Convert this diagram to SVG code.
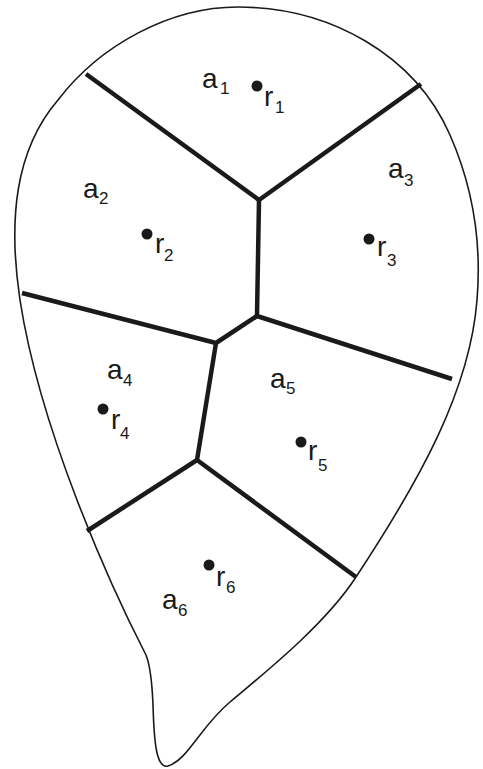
<svg xmlns="http://www.w3.org/2000/svg" width="483" height="769" viewBox="0 0 483 769">
<style>
.outline{fill:none;stroke:#1a1a1a;stroke-width:1.6}
.edge{fill:none;stroke:#1a1a1a;stroke-width:4.5;stroke-linejoin:round;stroke-linecap:butt}
.lbl{font-family:"Liberation Sans",Arial,sans-serif;font-size:28px;fill:#1a1a1a}
.sub{font-family:"Liberation Sans",Arial,sans-serif;font-size:17px;fill:#1a1a1a}
.dot{fill:#1a1a1a}
</style>
<rect width="483" height="769" fill="#fff"/>
<path id="leaf" class="outline" d="M238 7 C330 7 415 55 450 135 C472 185 482 240 477 300 C470 390 420 480 356 577 C325 625 262 675 230 702 C200 727 188 760 168 766 C156 769 154 740 153 705 C152 680 150 665 146 655 C110 585 40 430 20 300 C8 220 15 150 58 100 C100 45 170 7 238 7 Z"/>
<g id="connectors">
<polyline class="edge" points="86,74 259,200 421,84"/>
<polyline class="edge" points="259,200 257,316 452,379"/>
<polyline class="edge" points="22,293 216,343 257,316"/>
<polyline class="edge" points="216,343 197,460 87,531"/>
<polyline class="edge" points="197,460 356,577"/>
</g>
<g id="region-1"><text class="lbl" x="202" y="88">a</text><text class="sub" x="220" y="94">1</text></g>
<g id="site-1"><circle class="dot" cx="257" cy="86" r="5.5"/><text class="lbl" x="264" y="106">r</text><text class="sub" x="275" y="113">1</text></g>
<g id="region-2"><text class="lbl" x="83" y="198">a</text><text class="sub" x="99" y="204">2</text></g>
<g id="site-2"><circle class="dot" cx="147" cy="234" r="5.5"/><text class="lbl" x="155" y="253">r</text><text class="sub" x="164" y="261">2</text></g>
<g id="region-3"><text class="lbl" x="388" y="178">a</text><text class="sub" x="404" y="186">3</text></g>
<g id="site-3"><circle class="dot" cx="369" cy="239" r="5.5"/><text class="lbl" x="377" y="256">r</text><text class="sub" x="387" y="266">3</text></g>
<g id="region-4"><text class="lbl" x="107" y="379">a</text><text class="sub" x="123" y="386">4</text></g>
<g id="site-4"><circle class="dot" cx="103" cy="409" r="5.5"/><text class="lbl" x="111" y="429">r</text><text class="sub" x="120" y="439">4</text></g>
<g id="region-5"><text class="lbl" x="270" y="388">a</text><text class="sub" x="286" y="394">5</text></g>
<g id="site-5"><circle class="dot" cx="301" cy="442" r="5.5"/><text class="lbl" x="308" y="460">r</text><text class="sub" x="318" y="471">5</text></g>
<g id="region-6"><text class="lbl" x="162" y="609">a</text><text class="sub" x="178" y="616">6</text></g>
<g id="site-6"><circle class="dot" cx="209" cy="565" r="5.5"/><text class="lbl" x="216" y="586">r</text><text class="sub" x="226" y="593">6</text></g>
</svg>
